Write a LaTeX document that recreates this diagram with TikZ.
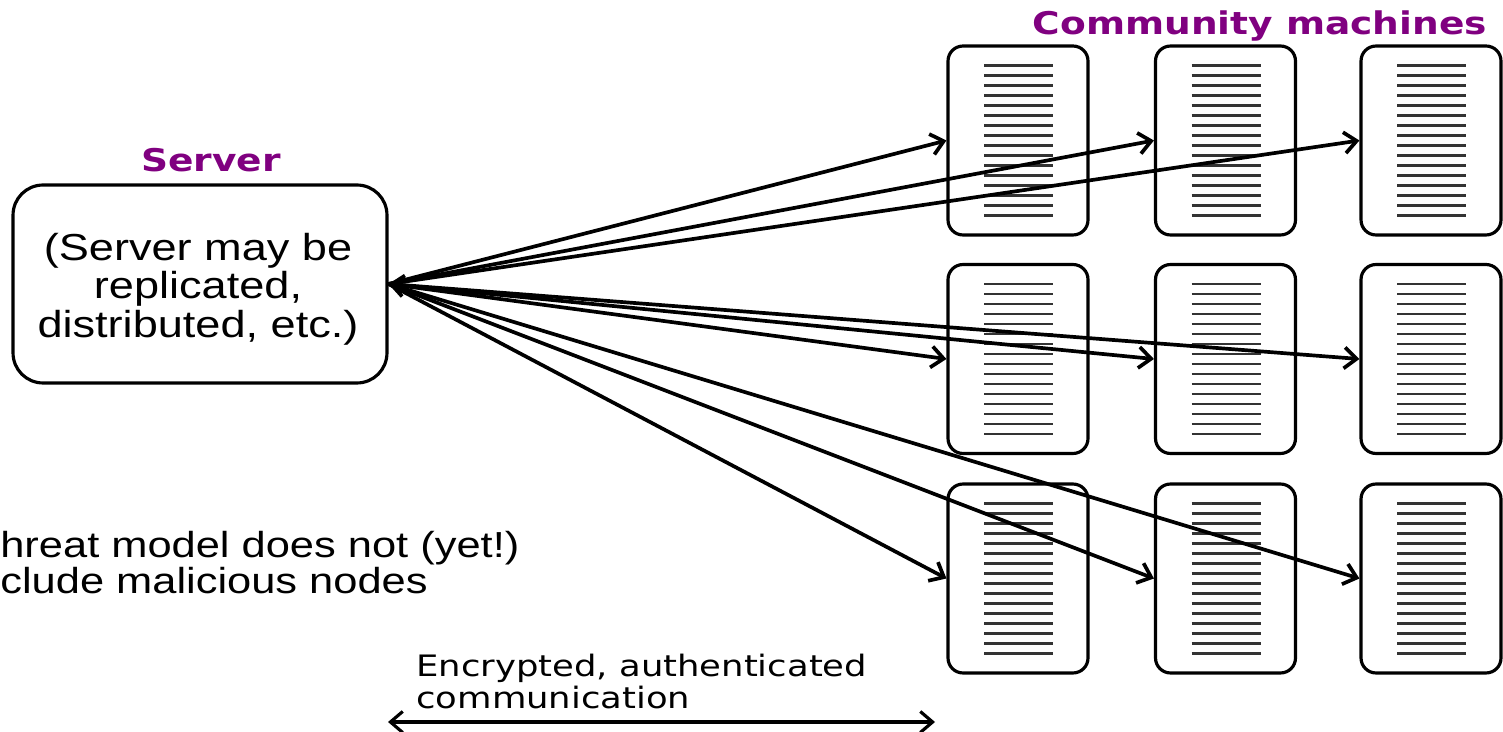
\documentclass[tikz,border=0pt]{standalone}
\usepackage{fontspec}
\usepackage{graphicx}
\setmainfont{Liberation Sans}
\newfontfamily\verdanafont{DejaVu Sans}
\usetikzlibrary{arrows.meta}
\definecolor{labelpurple}{RGB}{128,0,128}
\newcommand{\widetext}[1]{\scalebox{1.2}[1]{#1}}

\begin{document}
\begin{tikzpicture}[x=0.02cm, y=-0.02cm, >={Straight Barb[length=7pt,width=12pt]},
    machine/.style={draw, line width=1.8pt, rounded corners=0.3cm, minimum width=2.8cm, minimum height=3.78cm, inner sep=0pt},
    serverbox/.style={draw, line width=1.8pt, rounded corners=0.6cm, minimum width=7.48cm, minimum height=3.96cm, inner sep=0pt},
    slot/.style={line width=1.4pt, black!80},
    link/.style={line width=2.1pt, ->},
    heading/.style={labelpurple, font=\verdanafont\bfseries\fontsize{17.8}{20}\selectfont, inner sep=0pt, anchor=base},
    bodytext/.style={font=\fontsize{21.4}{22}\selectfont, inner sep=0pt}]
    \useasboundingbox (0,0) rectangle (1503,732);

    % server
    \node[heading] (serverlabel) at (211,172) {\widetext{Server}};
    \node[serverbox] (server) at (200,284) {};
    \node[bodytext, align=center] (servertext) at (198,289) {\widetext{(Server may be}\\ \widetext{replicated,}\\ \widetext{distributed, etc.)}};

    % community machines
    \node[heading] (communitylabel) at (1260,35) {\widetext{Community machines}};
    \foreach \c/\x in {1/1018,2/1225.5,3/1431}
        \foreach \r/\y in {1/140.5,2/359,3/578.5}
        {
            \node[machine] (m\r\c) at (\x,\y) {};
            \foreach \k in {-75,-65,...,75}
                \draw[slot] (\x-34,\y+\k) -- ++(69,0);
        }

    % links
    \foreach \t in {m11,m12,m13,m22,m23,m31,m32,m33}
        \draw[link] (server.east) -- (\t.west);
    \draw[link, <->] (server.east) -- (m21.west);

    \node[font=\fontsize{20.6}{20.6}\selectfont, inner sep=0pt, align=left, anchor=north west] (threat) at (0,531) {\widetext{hreat model does not (yet!)}\\ \widetext{clude malicious nodes}};

    \node[font=\verdanafont\fontsize{16.8}{18.3}\selectfont, inner sep=0pt, align=left, anchor=north west] (commtext) at (416,654) {\widetext{Encrypted, authenticated}\\ \widetext{communication}};
    \coordinate (commstart) at (388,722);
    \coordinate (commend) at (935,722);
    \draw[line width=1.8pt, <->] (commstart) -- (commend);
\end{tikzpicture}
\end{document}
